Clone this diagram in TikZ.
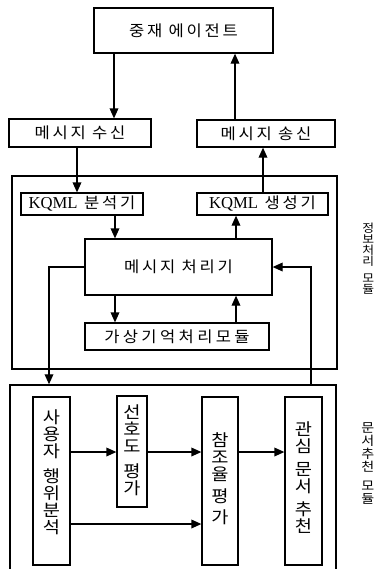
\documentclass[tikz,border=0pt]{standalone}
\usepackage{fontspec}
\setmainfont{Liberation Serif}
\newfontfamily\kr[LetterSpace=18,FakeStretch=1.08]{Noto Sans CJK KR}
\newfontfamily\krv[FakeStretch=1.12]{Noto Sans CJK KR}
\usetikzlibrary{arrows.meta}
\begin{document}
\begin{tikzpicture}[x=0.75pt,y=-0.75pt,
  box/.style={draw, line width=0.95pt, inner sep=0pt, font=\kr\fontsize{11.5}{12}\selectfont},
  frame/.style={draw, line width=1.05pt},
  vbox/.style={draw, line width=0.95pt, inner sep=0pt},
  vtext/.style={align=center, inner sep=0pt, font=\krv\fontsize{12.5}{12.75}\selectfont},
  side/.style={align=center, inner sep=0pt, anchor=north west, font=\krv\fontsize{8.6}{8.3}\selectfont},
  arr/.style={line width=0.95pt, -{Triangle[length=7.5pt,width=6.5pt]}}]
\useasboundingbox (0,0) rectangle (375,569);
\clip (0,0) rectangle (375,569);
\fill[white] (0,0) rectangle (375,569);
% frames
\node[frame, minimum width={325*0.75pt}, minimum height={193*0.75pt}, inner sep=0pt] (outer1) at (174.5,272.5) {};
\node[frame, minimum width={326*0.75pt}, minimum height={200*0.75pt}, inner sep=0pt] (outer2) at (173,485) {};
% top boxes
\node[box, minimum width={179*0.75pt}, minimum height={45*0.75pt}] (med) at (183.5,30.5) {중재 에이전트};
\node[box, minimum width={142*0.75pt}, minimum height={28*0.75pt}] (recv) at (80,133) {메시지 수신};
\node[box, minimum width={138*0.75pt}, minimum height={27*0.75pt}] (send) at (266,133.5) {메시지 송신};
\node[box, minimum width={122*0.75pt}, minimum height={22*0.75pt}] (ana) at (82,204) {{\rmfamily\fontsize{12.5}{12}\selectfont KQML} 분석기};
\node[box, minimum width={131*0.75pt}, minimum height={22*0.75pt}] (gen) at (262.5,204) {{\rmfamily\fontsize{12.5}{12}\selectfont KQML} 생성기};
\node[box, minimum width={187*0.75pt}, minimum height={56*0.75pt}] (proc) at (178.5,267) {메시지 처리기};
\node[box, minimum width={184*0.75pt}, minimum height={27*0.75pt}] (vmem) at (177,336.5) {\addfontfeature{LetterSpace=22}가상기억처리모듈};
% bottom boxes
\node[vbox, minimum width={37*0.75pt}, minimum height={168*0.75pt}] (user) at (51.5,481) {};
\node[vtext] at (51.5,472) {사\\용\\자\\[6pt]행\\위\\분\\석};
\node[vbox, minimum width={30*0.75pt}, minimum height={111*0.75pt}] (pref) at (132,451.5) {};
\node[vtext] at (132,450) {선\\호\\도\\[6pt]평\\가};
\node[vbox, minimum width={36*0.75pt}, minimum height={168*0.75pt}] (ref) at (220,481) {};
\node[vtext] at (220,479) {참\\조\\율\\[4pt]평\\[3pt]가};
\node[vbox, minimum width={37*0.75pt}, minimum height={168*0.75pt}] (rec) at (303.5,481) {};
\node[vtext] at (303.5,478) {관\\심\\[4pt]문\\서\\[5pt]추\\천};
% side labels
\node[side] (lab1) at (362,223) {정\\보\\처\\리\\[4pt]모\\듈};
\node[side, font=\krv\fontsize{9.4}{9.75}\selectfont] (lab2) at (361,422) {문\\서\\추\\천\\[5pt]모\\듈};
% helper coordinates
\coordinate (xa) at (114,0);
\coordinate (xb) at (235,0);
\coordinate (xc) at (77,0);
\coordinate (xd) at (263,0);
\coordinate (xe) at (115,0);
\coordinate (xf) at (236,0);
\coordinate (xg) at (49,0);
\coordinate (xh) at (311,0);
\coordinate (ya) at (0,452);
\coordinate (yb) at (0,524);
% connectors
\draw[arr] (med.south -| xa) -- (recv.north -| xa);
\draw[arr] (send.north -| xb) -- (med.south -| xb);
\draw[arr] (recv.south -| xc) -- (ana.north -| xc);
\draw[arr] (gen.north -| xd) -- (send.south -| xd);
\draw[arr] (ana.south -| xe) -- (proc.north -| xe);
\draw[arr] (proc.north -| xf) -- (gen.south -| xf);
\draw[arr] (proc.south -| xe) -- (vmem.north -| xe);
\draw[arr] (vmem.north -| xf) -- (proc.south -| xf);
\draw[arr] (proc.west) -- (proc.west -| xg) -- (outer2.north -| xg);
\draw[arr] (outer2.north -| xh) -- (proc.east -| xh) -- (proc.east);
\draw[arr] (user.east |- ya) -- (pref.west |- ya);
\draw[arr] (pref.east |- ya) -- (ref.west |- ya);
\draw[arr] (ref.east |- ya) -- (rec.west |- ya);
\draw[arr] (user.east |- yb) -- (ref.west |- yb);
\end{tikzpicture}
\end{document}
